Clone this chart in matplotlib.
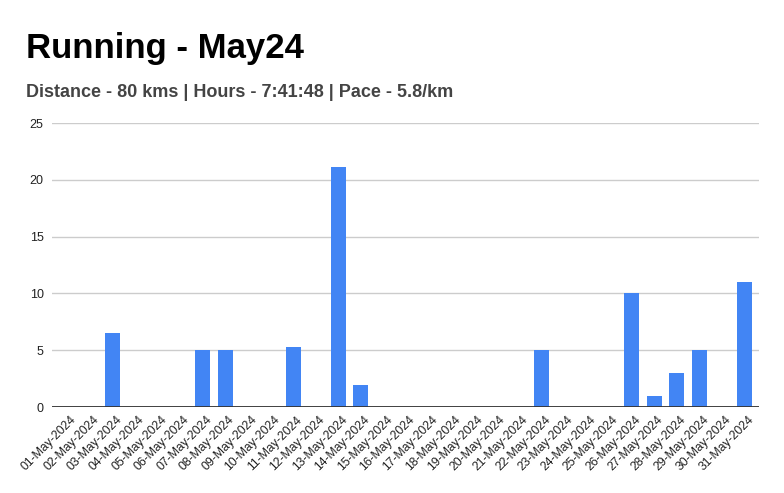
import matplotlib.pyplot as plt
from matplotlib.transforms import ScaledTranslation

plt.rcParams['font.family'] = ['Liberation Sans', 'DejaVu Sans']

# daily distance in km, May 2024
days = ['%02d-May-2024' % d for d in range(1, 32)]
distance = [0, 0, 6.5, 0, 0, 0, 5, 5, 0, 0,
            5.3, 0, 21.1, 1.9, 0, 0, 0, 0, 0, 0,
            0, 5, 0, 0, 0, 10, 1, 3, 5, 0,
            11]

title = 'Running - May24'
subtitle = 'Distance - 80 kms | Hours - 7:41:48 | Pace - 5.8/km'

fig = plt.figure(figsize=(7.84, 4.93), dpi=100)
ax = fig.add_axes([52 / 784, 1 - 407 / 493, (759 - 52) / 784, (407 - 123) / 493])

x = list(range(len(days)))
ax.bar(x, distance, width=0.66, color='#4285f4', zorder=3)

ax.set_xlim(-0.68, len(days) - 0.36)
ax.set_ylim(0, 25)
ax.set_yticks([0, 5, 10, 15, 20, 25])
ax.grid(axis='y', color='#cccccc', linewidth=1, zorder=0)
ax.axhline(0, color='#333333', linewidth=1.3, zorder=4)

for s in ax.spines.values():
    s.set_visible(False)

ax.set_xticks(x)
ax.set_xticklabels(days, rotation=45, ha='right', rotation_mode='anchor')
ax.tick_params(axis='x', length=0, pad=5, labelsize=8.8, labelcolor='#222222')
ax.tick_params(axis='y', length=0, pad=6, labelsize=9, labelcolor='#222222')

# nudge the slanted labels right so their ends sit under the bars
shift = ScaledTranslation(3 / 100, 0, fig.dpi_scale_trans)
for lab in ax.get_xticklabels():
    lab.set_transform(lab.get_transform() + shift)

fig.text(26 / 784, 1 - 58 / 493, title, fontsize=25, fontweight='bold',
         color='black', va='baseline')
fig.text(26 / 784, 1 - 97 / 493, subtitle, fontsize=13, fontweight='bold',
         color='#444444', va='baseline')

fig.savefig('out.png', dpi=100)
